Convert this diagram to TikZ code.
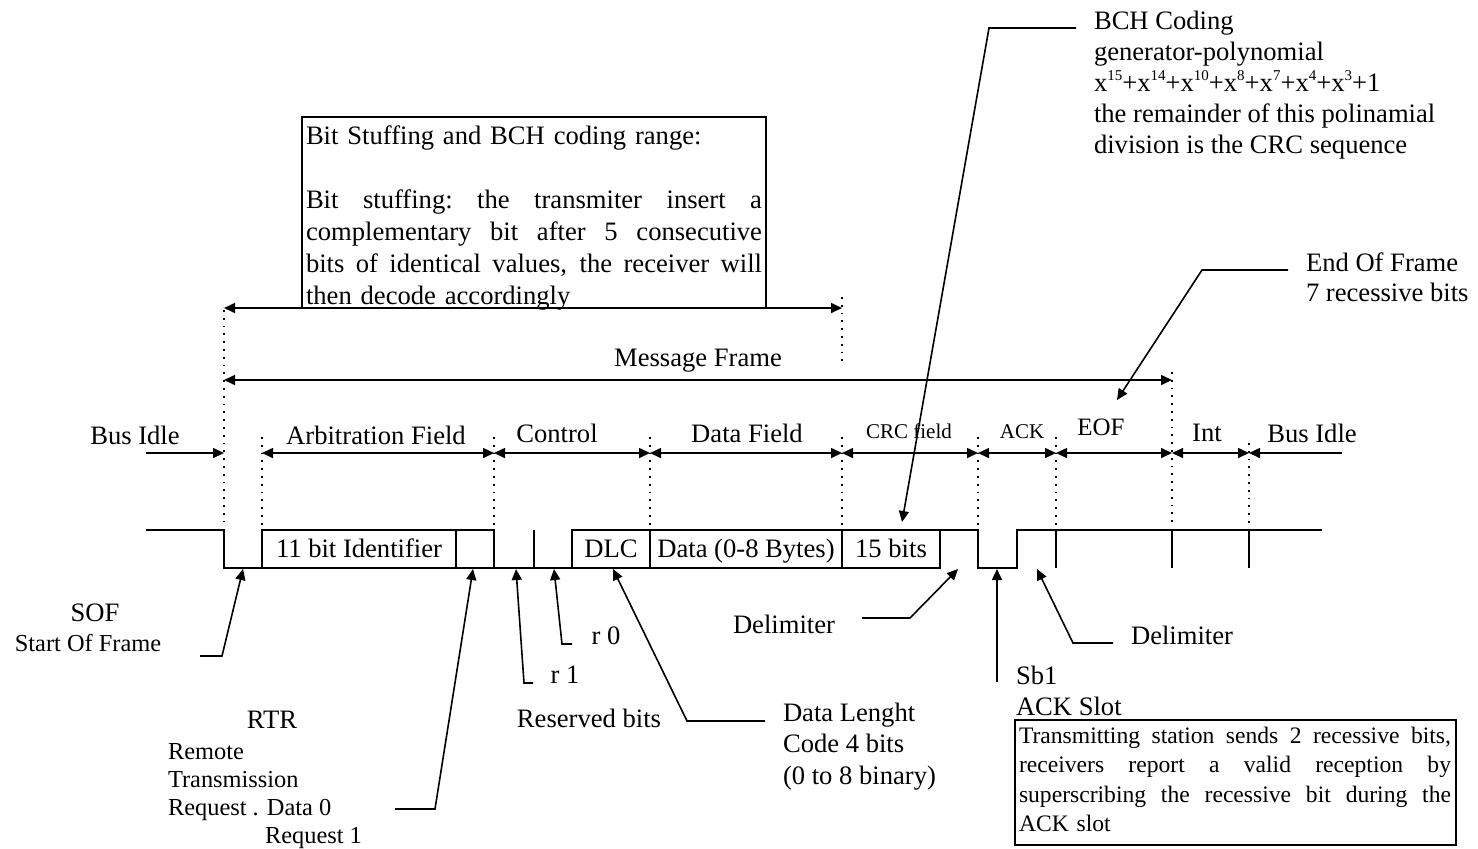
\documentclass[tikz,border=0pt]{standalone}
\usepackage{fontspec}
\setmainfont{Liberation Serif}
\usetikzlibrary{arrows.meta}
% a fully justified line of the given width
\newcommand{\spreadline}[2]{{\spaceskip=.25em plus 1fil\xspaceskip=.25em plus 1fil\makebox[#1][s]{#2}}}
% small raised exponent
\newcommand{\expo}[1]{\raisebox{0.42em}{\fontsize{7.5}{8}\selectfont #1}}
\begin{document}
\begin{tikzpicture}[x=0.5pt,y=-0.5pt,
  every node/.style={inner sep=0pt, outer sep=0pt},
  big/.style={font=\fontsize{13.3}{16}\selectfont},
  mid/.style={font=\fontsize{12.2}{14}\selectfont},
  small/.style={font=\fontsize{10.5}{12}\selectfont},
  wave/.style={line width=1.1pt},
  lead/.style={line width=0.8pt},
  tipend/.style={lead,-{Triangle[length=5.5pt,width=5pt]}},
  span/.style={lead,{Triangle[length=5.5pt,width=5pt]}-{Triangle[length=5.5pt,width=5pt]}},
  guide/.style={line width=0.9pt, dash pattern=on 0.9pt off 3pt},
  field/.style={draw, wave, big, minimum height=19pt, text height=10pt, text depth=2pt},
]
\useasboundingbox (0,0) rectangle (1478,848);

% ---- bit fields of the frame ----
\node[field, minimum width=97pt] (ident)  at (359,549) {11 bit Identifier};
\node[field, minimum width=19pt] (rtrbit) at (475,549) {};
\node[field, minimum width=39pt] (dlc)    at (611,549) {DLC};
\node[field, minimum width=96pt] (data)   at (746,549) {Data (0-8 Bytes)};
\node[field, minimum width=49pt] (crc)    at (891,549) {15 bits};

% ---- bus level ----
\draw[wave] (146,530) -- (224,530) -- (224,568) -- (ident.south west);
\draw[wave] (rtrbit.south east) -- (dlc.south west);
\draw[wave] (534,530) -- (534,568);
\draw[wave] (crc.north east) -- (978,530) -- (978,568) -- (1017,568) -- (1017,530) -- (1322,530);
\foreach \x in {1056,1172,1249} \draw[wave] (\x,530) -- (\x,568);

% ---- dotted field boundaries ----
\draw[guide] (224,310) -- (224,526);
\draw[guide] (262,437) -- (262,526);
\draw[guide] (494,437) -- (494,526);
\draw[guide] (650,437) -- (650,526);
\draw[guide] (842,437) -- (842,526);
\draw[guide] (842,297) -- (842,363);
\draw[guide] (978,437) -- (978,526);
\draw[guide] (1056,437) -- (1056,526);
\draw[guide] (1172,372) -- (1172,526);
\draw[guide] (1249,443) -- (1249,526);

% ---- field names ----
\node[big]   (idleL) at (135,435) {Bus Idle};
\node[big]   (arb)   at (376,435) {Arbitration Field};
\node[big]   (ctrl)  at (557,433) {Control};
\node[big]   (dfld)  at (747,433) {Data Field};
\node[small] (crcf)  at (909,431) {CRC field};
\node[small] (ackf)  at (1022,432) {ACK};
\node[font=\fontsize{12.5}{14}\selectfont] (eof) at (1101,427) {EOF};
\node[big]   (intm)  at (1207,433) {Int};
\node[big]   (idleR) at (1312,433) {Bus Idle};

% ---- field extents ----
\coordinate (p0) at (146,453);
\coordinate (p1) at (224,453);
\coordinate (p2) at (262,453);
\coordinate (p3) at (494,453);
\coordinate (p4) at (650,453);
\coordinate (p5) at (842,453);
\coordinate (p6) at (978,453);
\coordinate (p7) at (1056,453);
\coordinate (p8) at (1172,453);
\coordinate (p9) at (1249,453);
\coordinate (p10) at (1342,453);
\draw[tipend] (p0) -- (p1);
\draw[span] (p2) -- (p3);
\draw[span] (p3) -- (p4);
\draw[span] (p4) -- (p5);
\draw[span] (p5) -- (p6);
\draw[span] (p6) -- (p7);
\draw[span] (p7) -- (p8);
\draw[span] (p8) -- (p9);
\draw[tipend] (p10) -- (p9);

% ---- frame and coding range ----
\coordinate (m0) at (224,380);
\coordinate (m1) at (1172,380);
\coordinate (s0) at (224,308);
\coordinate (s1) at (842,308);
\node[big] (msg) at (698,361) {Message Frame};
\draw[span] (m0) -- (m1);

\node[draw, lead, minimum width=232pt, minimum height=95.5pt, anchor=north west] (stuff) at (302,117) {};
\node[big, anchor=north west, text width=228pt, align=left] (stufftxt) at (306,126) {%
Bit Stuffing and BCH coding range:\\[16pt]
\spreadline{228pt}{Bit stuffing: the transmiter insert a}\\
\spreadline{228pt}{complementary bit after 5 consecutive}\\
\spreadline{228pt}{bits of identical values, the receiver will}\\
then decode accordingly};
\draw[span] (s0) -- (s1);

% ---- SOF ----
\node[big] (sof) at (95,613) {SOF};
\node[mid] (sofdesc) at (88,643) {Start Of Frame};
\coordinate (sofA) at (200,656);
\coordinate (sofB) at (222,656);
\coordinate (sofT) at (243,569);
\draw[tipend] (sofA) -- (sofB) -- (sofT);

% ---- RTR ----
\node[big] (rtr) at (272,720) {RTR};
\node[mid, anchor=north west, align=left] (rtrdesc) at (168,744) {Remote\\Transmission\\Request . Data 0\\\hspace*{48.5pt}Request 1};
\coordinate (rtrA) at (395,809);
\coordinate (rtrB) at (435,809);
\coordinate (rtrT) at (473,569);
\draw[tipend] (rtrA) -- (rtrB) -- (rtrT);

% ---- reserved bits ----
\node[big] (r1) at (565,675) {r 1};
\node[big] (r0) at (606,636) {r 0};
\node[big] (resv) at (589,718) {Reserved bits};
\coordinate (r1A) at (533,683);
\coordinate (r1B) at (524,683);
\coordinate (r1T) at (516,569);
\draw[tipend] (r1A) -- (r1B) -- (r1T);
\coordinate (r0A) at (572,644);
\coordinate (r0B) at (562,644);
\coordinate (r0T) at (554,569);
\draw[tipend] (r0A) -- (r0B) -- (r0T);

% ---- DLC ----
\node[anchor=north west, align=left, font=\fontsize{13.3}{15.75}\selectfont] (dlcdesc) at (783,703) {Data Lenght\\Code 4 bits\\(0 to 8 binary)};
\coordinate (dlcA) at (765,721);
\coordinate (dlcB) at (687,721);
\coordinate (dlcT) at (613,569);
\draw[tipend] (dlcA) -- (dlcB) -- (dlcT);

% ---- CRC delimiter ----
\node[big] (crcdel) at (784,624) {Delimiter};
\coordinate (cdA) at (862,618);
\coordinate (cdB) at (910,618);
\coordinate (cdT) at (958,569);
\draw[tipend] (cdA) -- (cdB) -- (cdT);

% ---- ACK slot ----
\node[big, anchor=west] (sb1) at (1016,675) {Sb1};
\node[big, anchor=west] (ackslot) at (1016,706) {ACK Slot};
\coordinate (asA) at (997,682);
\coordinate (asT) at (997,569);
\draw[tipend] (asA) -- (asT);
\node[draw, lead, minimum width=220.5pt, minimum height=62.5pt, anchor=north west] (ackbox) at (1015,720) {};
\node[anchor=north west, text width=216pt, align=left, font=\fontsize{11.8}{14.7}\selectfont] (acktxt) at (1019,727) {%
\spreadline{216pt}{Transmitting station sends 2 recessive bits,}\\
\spreadline{216pt}{receivers report a valid reception by}\\
\spreadline{216pt}{superscribing the recessive bit during the}\\
ACK slot};

% ---- ACK delimiter ----
\node[big] (ackdel) at (1182,635) {Delimiter};
\coordinate (adA) at (1113,643);
\coordinate (adB) at (1073,643);
\coordinate (adT) at (1037,569);
\draw[tipend] (adA) -- (adB) -- (adT);

% ---- BCH coding ----
\node[anchor=north west, align=left, font=\fontsize{13.3}{15.5}\selectfont] (bch) at (1094,11) {BCH Coding\\generator-polynomial\\x\expo{15}+x\expo{14}+x\expo{10}+x\expo{8}+x\expo{7}+x\expo{4}+x\expo{3}+1\\the remainder of this polinamial\\division is the CRC sequence};
\coordinate (bchA) at (1076,28);
\coordinate (bchB) at (989,28);
\coordinate (bchT) at (902,522);
\draw[tipend] (bchA) -- (bchB) -- (bchT);

% ---- End of frame ----
\node[anchor=north west, align=left, font=\fontsize{13.3}{15}\selectfont] (eofdesc) at (1306,253) {End Of Frame\\7 recessive bits};
\coordinate (eofA) at (1288,270);
\coordinate (eofB) at (1202,270);
\coordinate (eofT) at (1117,400);
\draw[tipend] (eofA) -- (eofB) -- (eofT);
\end{tikzpicture}
\end{document}
